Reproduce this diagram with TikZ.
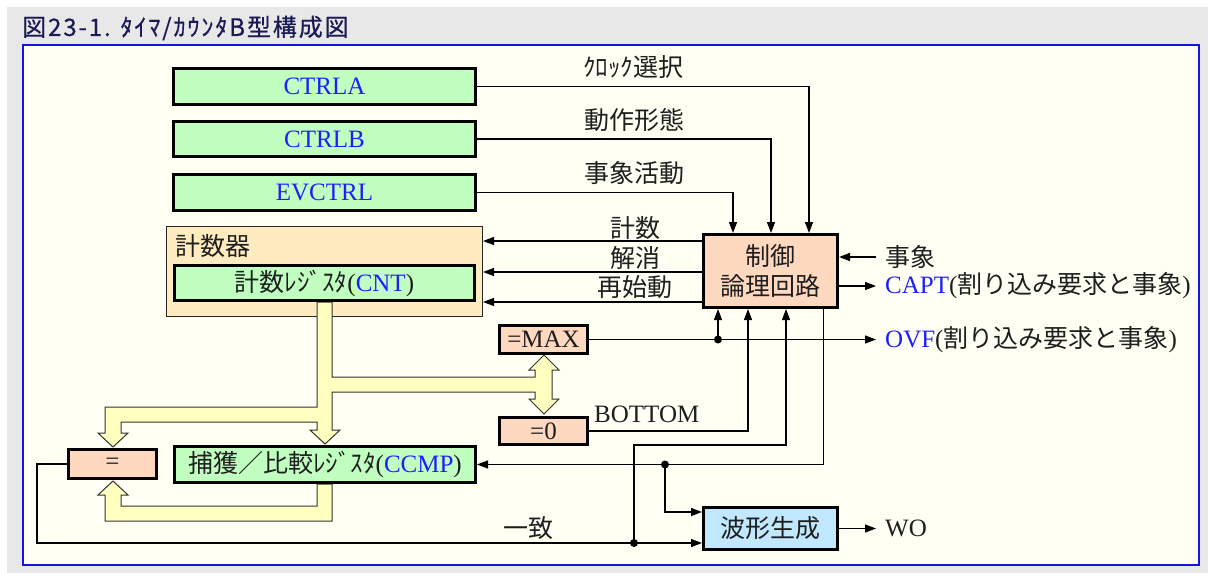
\documentclass[tikz,border=0pt]{standalone}
\usepackage{fontspec}
\setmainfont{Liberation Serif}
\newfontfamily\jp{Noto Sans CJK JP}
\newfontfamily\jptitle[LetterSpace=8,FakeBold=0.6]{Noto Sans CJK JP}
\usetikzlibrary{arrows.meta,calc}
\definecolor{bgGray}{HTML}{E8E8E8}
\definecolor{frameBlue}{HTML}{1414E6}
\definecolor{ivory}{HTML}{FFFFF4}
\definecolor{regGreen}{HTML}{C0FFC0}
\definecolor{peach}{HTML}{FFD8C0}
\definecolor{ctrFill}{HTML}{FFEBC0}
\definecolor{busYel}{HTML}{FFFFC0}
\definecolor{waveBlue}{HTML}{C0E8FF}
\definecolor{tBlue}{HTML}{1E1EFF}
\definecolor{ink}{HTML}{1E1E1E}
\definecolor{titleInk}{HTML}{1A1A55}
\newcommand\bl[1]{\textcolor{tBlue}{#1}}
\begin{document}
\begin{tikzpicture}[x=1pt,y=-1pt,
  font=\fontsize{25}{30}\selectfont,
  reg/.style={draw=black, line width=3pt, fill=regGreen, inner sep=0pt, text=ink},
  cmpbox/.style={draw=black, line width=3pt, fill=peach, inner sep=0pt, text=ink},
  lbl/.style={inner sep=0pt, text=ink},
  rlbl/.style={inner sep=0pt, inner xsep=9pt, anchor=west, text=ink},
  wire/.style={line width=1.3pt, draw=black},
  arr/.style={wire, -{Triangle[length=11pt,width=8pt]}},
  bus/.style={fill=busYel, draw=black!80, line width=1pt, line join=miter},
  dot/.style={fill=black}]
% background and frame
\useasboundingbox (0,0) rectangle (1208,573);
\fill[white] (0,0) rectangle (1208,573);
\fill[bgGray] (7,7) rectangle (1208,573);
\draw[frameBlue, line width=2pt, fill=ivory] (23,45) rectangle (1199,565);
\node[anchor=west, inner sep=0pt, text=titleInk, font=\jptitle\fontsize{24}{28}\selectfont] (title) at (22,28) {図23-1. ﾀｲﾏ/ｶｳﾝﾀB型構成図};

% registers
\node[reg, minimum width=302pt, minimum height=36pt] (ctrla) at (324.5,86.5) {\bl{CTRLA}};
\node[reg, minimum width=302pt, minimum height=35pt] (ctrlb) at (324.5,139) {\bl{CTRLB}};
\node[reg, minimum width=302pt, minimum height=36pt] (evctrl) at (324.5,192.5) {\bl{EVCTRL}};
\node[draw=black!85, line width=1.3pt, fill=ctrFill, minimum width=315.7pt, minimum height=89.7pt, inner sep=0pt] (counter) at (324.5,271.5) {};
\node[lbl, anchor=west] (counterlbl) at (175,246) {\jp 計数器};

% buses
\draw[bus] (317,302) -- (317,407) -- (105,407) -- (105,433) -- (98,433) -- (113,447) -- (128,433) -- (121,433) -- (121,422) -- (317,422) -- (317,430) -- (310,430) -- (325,444) -- (340,430) -- (332,430) -- (332,392) -- (535,392) -- (535,399) -- (529,399) -- (544,414) -- (559,399) -- (552,399) -- (552,370) -- (559,370) -- (544,355) -- (529,370) -- (535,370) -- (535,377) -- (332,377) -- (332,302) -- cycle;
\draw[bus] (317,484) -- (317,506) -- (121,506) -- (121,495) -- (128,495) -- (113,481) -- (98,495) -- (105,495) -- (105,521) -- (332,521) -- (332,484) -- cycle;

\node[reg, minimum width=300pt, minimum height=35pt] (cnt) at (324.5,283) {{\jp 計数ﾚｼﾞｽﾀ}(\bl{CNT})};
\node[reg, minimum width=301pt, minimum height=36pt] (ccmp) at (325,464.5) {{\jp 捕獲／比較ﾚｼﾞｽﾀ}(\bl{CCMP})};
\node[cmpbox, minimum width=88pt, minimum height=29pt] (eq) at (112.5,464) {=};
\node[cmpbox, minimum width=88pt, minimum height=28pt] (eqmax) at (543.5,339.5) {=MAX};
\node[cmpbox, minimum width=88pt, minimum height=27pt] (eqz) at (543.5,431) {=0};
\node[cmpbox, minimum width=134pt, minimum height=73pt, align=center] (ctl) at (770.5,271) {{\jp 制御}\\{\jp 論理回路}};
\node[draw=black, line width=3pt, fill=waveBlue, inner sep=0pt, text=ink, minimum width=134pt, minimum height=42pt] (wave) at (770.5,528.5) {\jp 波形生成};

% labels
\node[lbl] (lclk) at (633,67) {\jp ｸﾛｯｸ選択};
\node[lbl] (lmode) at (634,120) {\jp 動作形態};
\node[lbl] (levt) at (634,173) {\jp 事象活動};
\node[lbl] (lcount) at (635,228) {\jp 計数};
\node[lbl] (lclr) at (635,258) {\jp 解消};
\node[lbl] (lrst) at (635,287) {\jp 再始動};
\node[lbl, anchor=west] (lbot) at (594,414) {BOTTOM};
\node[lbl] (lmatch) at (528,528) {\jp 一致};
\node[rlbl] (evt) at (876,257) {\jp 事象};
\node[rlbl] (capt) at (876,286) {\bl{CAPT}({\jp 割り込み要求と事象})};
\node[rlbl] (ovf) at (876,339.5) {\bl{OVF}({\jp 割り込み要求と事象})};
\node[rlbl] (wo) at (876,528.5) {WO};

% junctions
\coordinate (jmax) at (718,339.5);
\coordinate (jccmp) at (665,464.5);
\coordinate (jeq) at (634,543);
\coordinate (k1) at (634,445);

% connectors
\draw[arr] (ctrla.east) -| ([xshift=38.5pt]ctl.north);
\draw[arr] (ctrlb.east) -| ([xshift=0.5pt]ctl.north);
\draw[arr] (evctrl.east) -| ([xshift=-37.5pt]ctl.north);
\draw[arr] ([yshift=30pt]ctl.west) coordinate (c1) -- (counter.east |- c1);
\draw[arr] ([yshift=-1pt]ctl.west) coordinate (c2) -- (counter.east |- c2);
\draw[arr] ([yshift=-31pt]ctl.west) coordinate (c3) -- (counter.east |- c3);
\draw[arr] (evt.west) -- (ctl.east |- evt.west);
\draw[arr] (ctl.east |- capt.west) -- (capt.west);
\draw[arr] (eqmax.east) -- (ovf.west);
\draw[arr] (jmax) -- (ctl.south -| jmax);
\draw[arr] (eqz.east) -| ([xshift=-22.5pt]ctl.south);
\draw[arr] (jeq) -- (k1) -| ([xshift=15.5pt]ctl.south);
\draw[arr] ([xshift=53pt]ctl.south) |- (ccmp.east);
\draw[arr] (jccmp) |- ([yshift=16.5pt]wave.west);
\draw[arr] (eq.west) -- ++(-30,0) |- ([yshift=-14.5pt]wave.west);
\draw[arr] (wave.east) -- (wo.west);
\fill[dot] (jmax) circle[radius=4pt];
\fill[dot] (jccmp) circle[radius=4pt];
\fill[dot] (jeq) circle[radius=4pt];
\end{tikzpicture}
\end{document}
